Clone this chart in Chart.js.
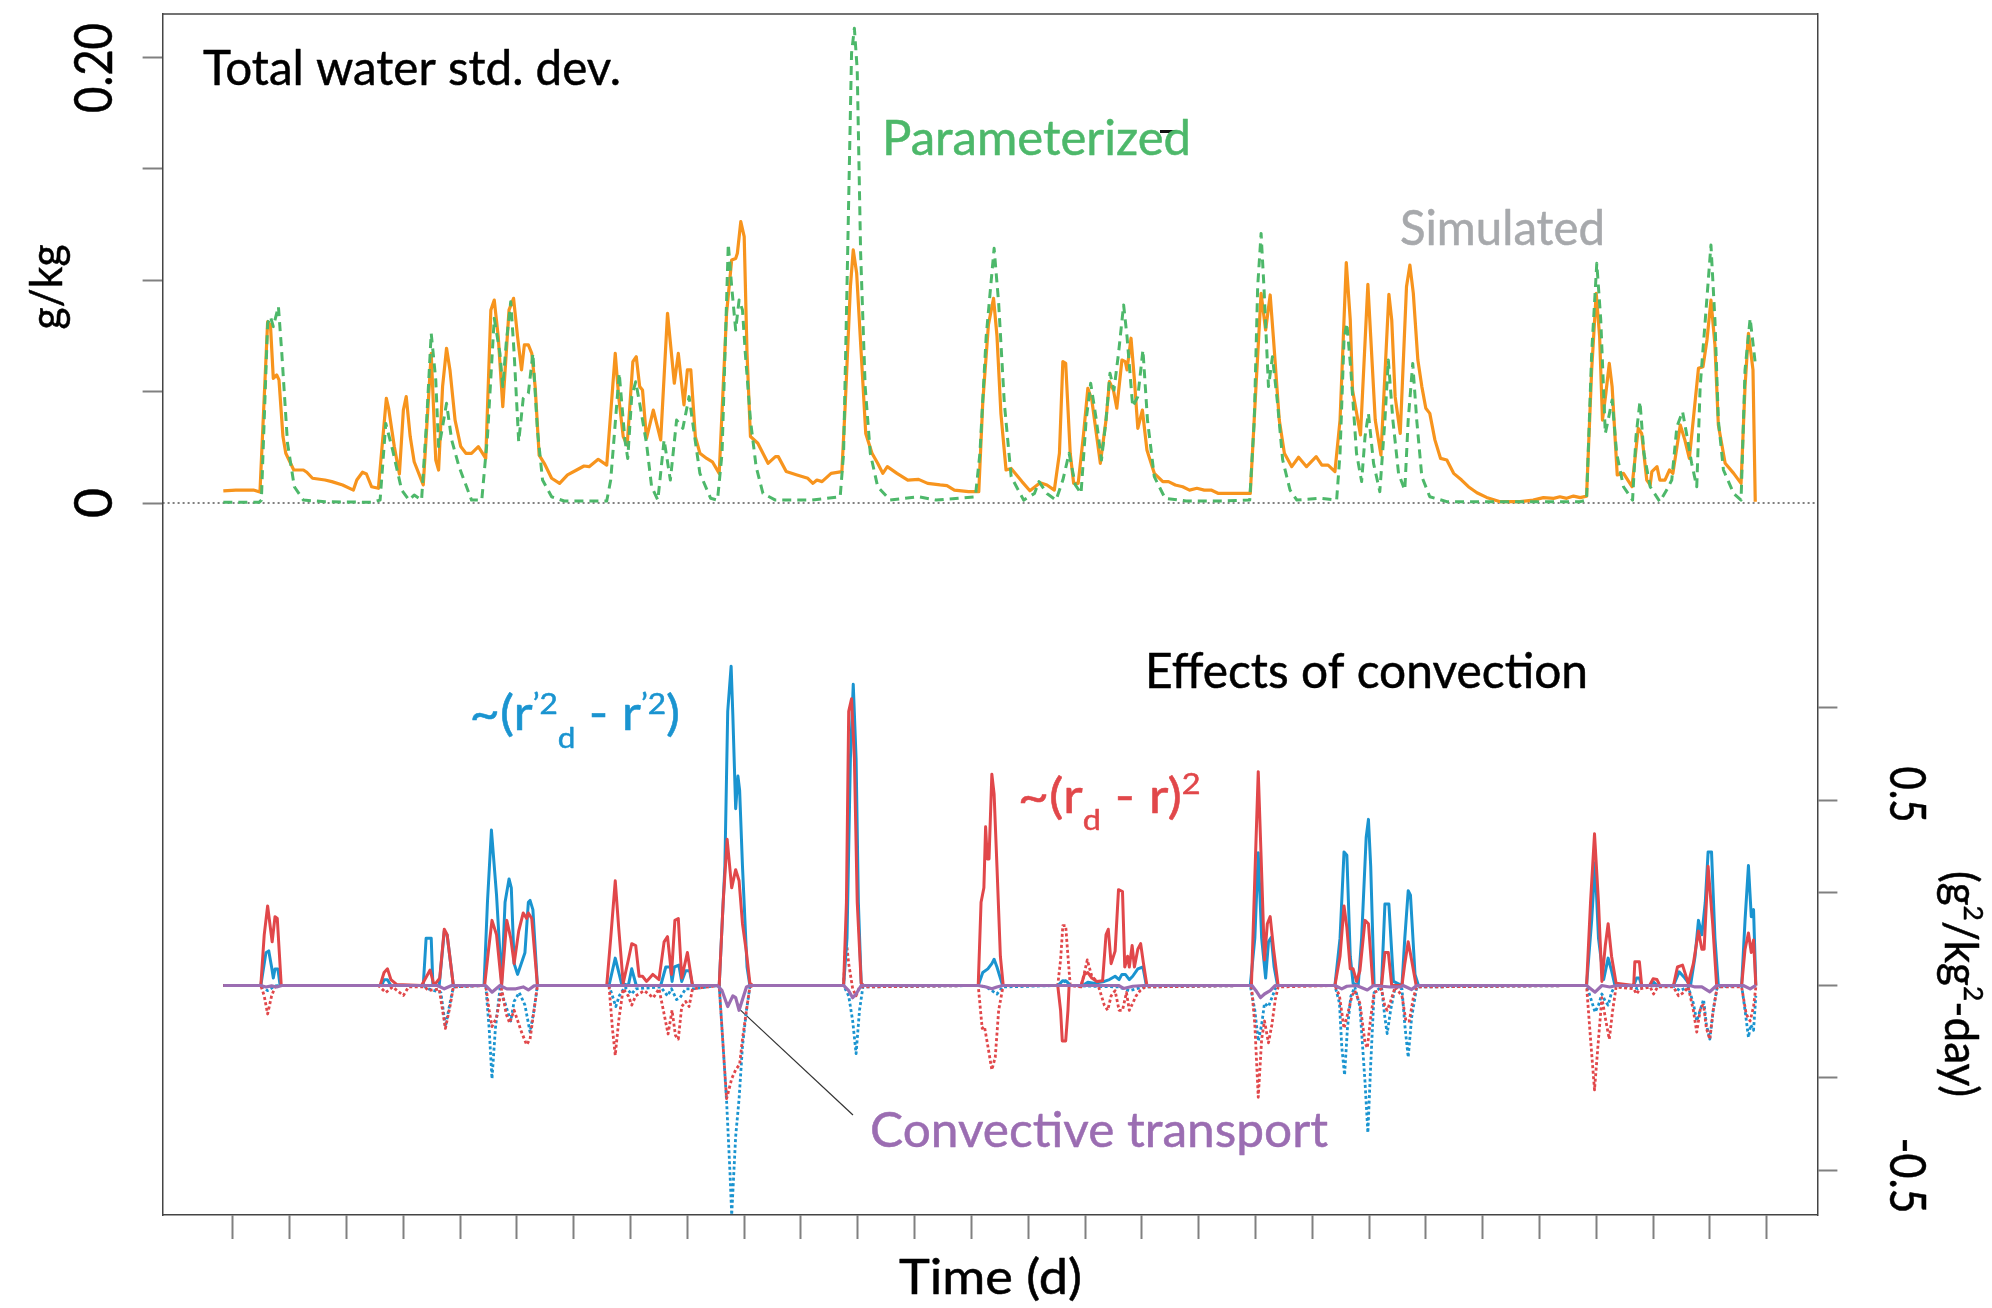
<!DOCTYPE html>
<html>
<head>
<meta charset="utf-8">
<title>Total water std. dev. / Effects of convection</title>
<script src="https://cdn.jsdelivr.net/npm/chart.js"></script>
<style>
  html, body { margin: 0; padding: 0; background: #fff; overflow: hidden; }
  canvas { display: block; }
</style>
</head>
<body>
<canvas id="c" width="1992" height="1308"></canvas>
<script>
// time axis (days), tick marks every day
var dayTicks = [1,2,3,4,5,6,7,8,9,10,11,12,13,14,15,16,17,18,19,20,21,22,23,24,25,26,27,28];
var xMin = -0.239, xMax = 28.894;

// upper panel, g/kg
var sdTicks = [0, 0.05, 0.10, 0.15, 0.20];
var sdMin = -0.3193, sdMax = 0.2193;
// lower panel, g2/kg2-day
var effTicks = [-0.5, -0.25, 0, 0.25, 0.5, 0.75];
var effMin = -0.6203, effMax = 2.6257;

// [day, value]
var simulated = [[0.83,.0054],[1.05,.0058],[1.36,.0058],[1.475,.0049],[1.61,.0813],[1.66,.0798],[1.71,.0559],[1.77,.0574],[1.81,.0552],[1.88,.0298],[1.93,.0223],[2.07,.0148],[2.24,.0148],[2.30,.0138],[2.40,.0111],[2.62,.0103],[2.74,.0096],[2.93,.0081],[3.12,.0058],[3.18,.0103],[3.28,.0138],[3.35,.0130],[3.44,.0073],[3.56,.0066],[3.70,.0469],[3.74,.0425],[3.84,.0253],[3.93,.0130],[4.00,.0417],[4.05,.0477],[4.12,.0298],[4.19,.0185],[4.35,.0081],[4.49,.0671],[4.57,.0193],[4.62,.0148],[4.69,.0522],[4.76,.0694],[4.82,.0597],[4.91,.0372],[5.01,.0253],[5.10,.0223],[5.20,.0223],[5.32,.0253],[5.45,.0200],[5.54,.0866],[5.60,.0910],[5.67,.0746],[5.75,.0432],[5.86,.0866],[5.94,.0918],[6.01,.0746],[6.08,.0597],[6.13,.0709],[6.20,.0709],[6.26,.0671],[6.32,.0522],[6.39,.0215],[6.48,.0178],[6.61,.0111],[6.75,.0088],[6.89,.0126],[7.05,.0148],[7.18,.0166],[7.27,.0163],[7.43,.0196],[7.58,.0170],[7.73,.0671],[7.79,.0477],[7.87,.0298],[7.94,.0260],[8.04,.0634],[8.10,.0656],[8.16,.0522],[8.21,.0507],[8.28,.0290],[8.40,.0417],[8.53,.0283],[8.65,.0851],[8.77,.0537],[8.84,.0671],[8.94,.0440],[9.00,.0597],[9.06,.0597],[9.14,.0298],[9.22,.0223],[9.34,.0200],[9.44,.0185],[9.56,.0133],[9.69,.0851],[9.78,.1090],[9.85,.1097],[9.88,.1120],[9.94,.1262],[10.00,.1195],[10.05,.0671],[10.11,.0298],[10.24,.0268],[10.42,.0178],[10.55,.0208],[10.60,.0208],[10.74,.0141],[10.93,.0126],[11.12,.0111],[11.21,.0088],[11.28,.0103],[11.37,.0096],[11.53,.0133],[11.72,.0141],[11.78,.0447],[11.87,.0970],[11.92,.1135],[11.98,.1030],[12.06,.0671],[12.14,.0312],[12.25,.0223],[12.35,.0178],[12.44,.0133],[12.52,.0163],[12.69,.0133],[12.88,.0103],[13.07,.0106],[13.23,.0088],[13.45,.0081],[13.57,.0078],[13.70,.0058],[13.95,.0051],[14.13,.0051],[14.20,.0450],[14.30,.0800],[14.39,.0918],[14.45,.0750],[14.52,.0400],[14.61,.0148],[14.70,.0155],[14.89,.0096],[15.03,.0055],[15.21,.0091],[15.33,.0081],[15.46,.0058],[15.55,.0223],[15.61,.0634],[15.66,.0626],[15.74,.0223],[15.80,.0088],[15.88,.0088],[15.97,.0298],[16.05,.0514],[16.12,.0462],[16.27,.0178],[16.37,.0372],[16.43,.0544],[16.50,.0507],[16.56,.0425],[16.65,.0641],[16.71,.0634],[16.74,.0597],[16.81,.0739],[16.87,.0552],[16.93,.0335],[17.01,.0417],[17.09,.0238],[17.22,.0133],[17.37,.0096],[17.47,.0096],[17.59,.0081],[17.72,.0073],[17.84,.0058],[17.97,.0066],[18.10,.0058],[18.22,.0058],[18.35,.0043],[18.60,.0043],[18.91,.0043],[19.01,.0522],[19.10,.0940],[19.18,.0776],[19.26,.0933],[19.32,.0731],[19.42,.0372],[19.51,.0223],[19.64,.0163],[19.76,.0205],[19.90,.0163],[20.07,.0208],[20.17,.0170],[20.28,.0170],[20.40,.0141],[20.49,.0372],[20.60,.1078],[20.67,.0821],[20.71,.0507],[20.85,.0305],[20.98,.0981],[21.03,.0746],[21.11,.0372],[21.21,.0215],[21.35,.0936],[21.40,.0821],[21.46,.0477],[21.55,.0312],[21.66,.0970],[21.72,.1067],[21.78,.0940],[21.86,.0641],[21.93,.0522],[22.00,.0425],[22.07,.0402],[22.16,.0283],[22.26,.0200],[22.37,.0193],[22.49,.0133],[22.63,.0103],[22.75,.0073],[22.90,.0046],[23.07,.0025],[23.31,.0006],[23.66,.0006],[23.89,.0013],[24.07,.0024],[24.25,.0021],[24.36,.0028],[24.48,.0021],[24.60,.0031],[24.72,.0024],[24.83,.0031],[24.92,.0597],[25.00,.0940],[25.06,.0746],[25.11,.0372],[25.17,.0492],[25.23,.0626],[25.28,.0522],[25.37,.0126],[25.48,.0133],[25.63,.0073],[25.74,.0335],[25.80,.0312],[25.89,.0103],[25.95,.0081],[25.98,.0141],[26.07,.0163],[26.12,.0103],[26.21,.0103],[26.29,.0148],[26.35,.0133],[26.48,.0350],[26.56,.0283],[26.64,.0200],[26.80,.0604],[26.88,.0611],[26.95,.0731],[27.02,.0910],[27.09,.0709],[27.15,.0350],[27.27,.0178],[27.42,.0133],[27.55,.0088],[27.62,.0522],[27.68,.0761],[27.76,.0597],[27.80,.0006]];

var parameterized = [[0.83,.0003],[1.46,.0003],[1.50,.0013],[1.61,.0806],[1.66,.0836],[1.71,.0791],[1.80,.0881],[1.86,.0671],[1.96,.0268],[2.08,.0073],[2.24,.0013],[2.62,.0006],[3.44,.0003],[3.59,.0013],[3.69,.0357],[3.81,.0238],[3.97,.0058],[4.10,.0013],[4.19,.0036],[4.32,.0013],[4.41,.0372],[4.49,.0761],[4.57,.0552],[4.62,.0253],[4.66,.0298],[4.76,.0447],[4.85,.0283],[4.98,.0163],[5.20,.0013],[5.38,.0013],[5.48,.0298],[5.60,.0828],[5.70,.0671],[5.75,.0522],[5.81,.0716],[5.89,.0903],[5.95,.0671],[6.03,.0275],[6.11,.0469],[6.20,.0492],[6.28,.0671],[6.36,.0327],[6.45,.0103],[6.61,.0028],[6.83,.0009],[7.58,.0009],[7.65,.0103],[7.80,.0582],[7.90,.0283],[7.95,.0200],[8.02,.0477],[8.09,.0544],[8.16,.0447],[8.28,.0268],[8.37,.0073],[8.48,.0013],[8.59,.0283],[8.70,.0103],[8.81,.0372],[8.92,.0335],[9.03,.0477],[9.12,.0312],[9.22,.0133],[9.41,.0021],[9.53,.0013],[9.61,.0223],[9.72,.1162],[9.78,.0970],[9.85,.0776],[9.91,.0910],[9.97,.0866],[10.02,.0671],[10.11,.0372],[10.21,.0163],[10.33,.0043],[10.55,.0013],[11.18,.0013],[11.69,.0028],[11.75,.0223],[11.81,.0970],[11.89,.2017],[11.94,.2129],[11.99,.1942],[12.05,.1120],[12.13,.0522],[12.22,.0223],[12.35,.0073],[12.57,.0013],[13.07,.0028],[13.38,.0013],[14.07,.0028],[14.15,.0223],[14.26,.0746],[14.40,.1142],[14.48,.0896],[14.58,.0447],[14.70,.0118],[14.92,.0013],[15.11,.0043],[15.19,.0096],[15.33,.0043],[15.49,.0013],[15.61,.0103],[15.72,.0223],[15.83,.0081],[15.93,.0043],[16.02,.0372],[16.10,.0537],[16.20,.0372],[16.29,.0193],[16.37,.0372],[16.44,.0582],[16.51,.0507],[16.59,.0671],[16.68,.0888],[16.74,.0746],[16.84,.0432],[16.93,.0477],[17.02,.0686],[17.10,.0372],[17.22,.0118],[17.41,.0021],[17.78,.0009],[18.41,.0009],[18.90,.0013],[18.98,.0372],[19.04,.0970],[19.10,.1209],[19.15,.0970],[19.23,.0522],[19.30,.0656],[19.39,.0447],[19.48,.0193],[19.61,.0058],[19.73,.0013],[20.14,.0021],[20.43,.0013],[20.49,.0223],[20.56,.0731],[20.61,.0806],[20.68,.0597],[20.78,.0223],[20.87,.0096],[20.93,.0298],[20.99,.0402],[21.08,.0178],[21.19,.0051],[21.28,.0372],[21.34,.0641],[21.42,.0372],[21.52,.0133],[21.63,.0058],[21.69,.0372],[21.77,.0626],[21.84,.0372],[21.93,.0118],[22.07,.0028],[22.37,.0006],[24.72,.0006],[24.83,.0013],[24.92,.0671],[25.01,.1075],[25.08,.0821],[25.16,.0312],[25.21,.0372],[25.28,.0462],[25.36,.0223],[25.48,.0073],[25.64,.0013],[25.70,.0298],[25.77,.0455],[25.84,.0223],[25.95,.0073],[26.12,.0006],[26.24,.0058],[26.33,.0103],[26.42,.0342],[26.52,.0410],[26.61,.0283],[26.68,.0178],[26.77,.0073],[26.83,.0522],[26.92,.0821],[27.02,.1157],[27.09,.0821],[27.15,.0372],[27.24,.0148],[27.42,.0043],[27.55,.0013],[27.62,.0597],[27.71,.0828],[27.80,.0626]];

// ~(r'2_d - r'2), solid = production, dotted = loss
var varSource = [[0.83,0],[1.49,0],[1.58,.0886],[1.63,.0935],[1.68,.0497],[1.71,.0205],[1.74,.0448],[1.79,.0448],[1.83,0],[3.62,0],[3.66,.0156],[3.72,.0156],[3.78,0],[4.35,0],[4.40,.1276],[4.49,.1276],[4.52,0],[4.63,0],[4.72,.147],[4.77,.137],[4.88,0],[5.42,0],[5.48,.225],[5.55,.42],[5.64,.244],[5.73,.006],[5.79,.225],[5.86,.288],[5.90,.264],[5.95,.059],[6.01,.030],[6.14,.0886],[6.20,.225],[6.23,.230],[6.28,.205],[6.36,0],[7.62,0],[7.73,.074],[7.84,.006],[7.96,0],[8.02,.045],[8.10,0],[8.53,0],[8.62,.050],[8.70,.050],[8.73,.011],[8.77,.050],[8.85,.055],[8.90,.011],[8.97,.040],[9.04,.040],[9.09,0],[9.56,0],[9.66,.322],[9.71,.741],[9.77,.863],[9.80,.731],[9.85,.478],[9.89,.566],[9.92,.527],[9.97,.322],[10.05,.050],[10.10,0],[11.75,0],[11.81,.128],[11.87,.614],[11.92,.814],[11.97,.614],[12.01,.225],[12.06,.006],[12.09,0],[14.12,0],[14.20,.035],[14.29,.045],[14.36,.059],[14.40,.071],[14.45,.050],[14.55,0],[15.52,0],[15.61,.013],[15.68,.011],[15.74,0],[15.96,0],[16.05,.009],[16.15,.006],[16.34,.011],[16.43,.016],[16.53,.025],[16.60,.016],[16.65,.030],[16.71,.030],[16.78,.016],[16.84,.025],[16.93,.045],[17.02,.050],[17.08,0],[18.91,0],[18.99,.128],[19.05,.359],[19.11,.128],[19.18,.020],[19.23,.118],[19.28,.130],[19.33,.050],[19.39,0],[20.40,0],[20.49,.128],[20.56,.361],[20.61,.352],[20.67,.079],[20.72,.006],[20.81,0],[20.87,.128],[20.95,.400],[20.99,.449],[21.03,.322],[21.09,0],[21.22,0],[21.28,.220],[21.35,.220],[21.43,.011],[21.58,0],[21.63,.128],[21.69,.256],[21.73,.244],[21.81,.030],[21.87,0],[24.83,0],[24.92,.176],[24.98,.332],[25.04,.128],[25.13,.016],[25.21,.074],[25.27,.040],[25.33,0],[25.66,0],[25.71,.020],[25.76,.020],[25.80,0],[25.95,0],[26.01,.009],[26.07,0],[26.36,0],[26.46,.037],[26.56,.020],[26.66,0],[26.74,.079],[26.80,.176],[26.86,.137],[26.92,.225],[26.97,.361],[27.03,.361],[27.09,.128],[27.15,0],[27.56,0],[27.62,.176],[27.68,.324],[27.73,.186],[27.77,.205],[27.81,0]];

var varSink = [[0.83,0],[1.49,0],[1.61,-.014],[1.74,-.001],[1.85,0],[4.35,0],[4.44,-.009],[4.66,-.019],[4.74,-.111],[4.82,-.048],[4.88,-.004],[5.45,0],[5.51,-.116],[5.56,-.252],[5.62,-.116],[5.70,-.009],[5.79,-.048],[5.89,-.096],[5.95,-.043],[6.04,-.019],[6.14,-.053],[6.23,-.126],[6.30,-.067],[6.36,0],[7.62,0],[7.68,-.028],[7.74,-.057],[7.80,-.028],[7.90,-.004],[8.02,-.023],[8.09,-.009],[8.53,-.004],[8.65,-.028],[8.72,-.009],[8.81,-.038],[8.87,-.033],[8.97,-.009],[9.09,-.009],[9.56,0],[9.63,-.166],[9.69,-.312],[9.75,-.506],[9.78,-.62],[9.85,-.408],[9.91,-.306],[9.97,-.164],[10.04,-.067],[10.10,-.004],[10.15,0],[11.75,0],[11.84,-.028],[11.91,-.096],[11.97,-.184],[12.03,-.067],[12.09,-.004],[14.14,0],[14.26,-.004],[14.36,-.014],[14.45,-.023],[14.55,-.004],[15.52,0],[15.58,.006],[15.66,.013],[15.72,0],[16.59,-.004],[16.78,-.014],[16.90,-.009],[17.03,-.004],[18.91,0],[18.99,-.067],[19.05,-.150],[19.11,-.106],[19.16,-.048],[19.23,-.057],[19.29,-.033],[19.35,-.009],[19.39,0],[20.40,0],[20.48,-.048],[20.52,-.165],[20.57,-.242],[20.62,-.116],[20.68,-.029],[20.75,-.004],[20.84,-.057],[20.93,-.262],[20.98,-.398],[21.03,-.213],[21.09,-.019],[21.22,-.004],[21.28,-.087],[21.32,-.130],[21.38,-.067],[21.46,-.004],[21.58,-.009],[21.63,-.106],[21.69,-.194],[21.75,-.087],[21.84,-.004],[24.83,0],[24.90,-.033],[24.98,-.072],[25.04,-.053],[25.10,-.023],[25.16,-.043],[25.21,-.053],[25.27,-.019],[25.33,-.001],[25.66,-.004],[25.73,-.009],[25.80,-.001],[26.36,-.001],[26.47,-.014],[26.62,-.004],[26.71,-.048],[26.77,-.096],[26.83,-.067],[26.89,-.038],[26.94,-.106],[27.00,-.145],[27.06,-.067],[27.13,-.004],[27.56,0],[27.62,-.067],[27.68,-.140],[27.72,-.106],[27.77,-.121],[27.81,-.028]];

// ~(r_d - r)2
var meanSource = [[0.83,0],[1.49,0],[1.55,.137],[1.61,.215],[1.69,.118],[1.74,.186],[1.78,.181],[1.85,0],[3.59,0],[3.66,.035],[3.72,.045],[3.78,.016],[3.88,.003],[4.32,0],[4.41,.025],[4.47,.042],[4.54,0],[4.64,.020],[4.72,.152],[4.77,.137],[4.88,0],[5.43,0],[5.50,.098],[5.56,.176],[5.64,.137],[5.73,0],[5.82,.176],[5.89,.128],[5.95,.059],[6.03,.147],[6.11,.196],[6.17,.181],[6.20,.196],[6.26,.181],[6.36,0],[7.58,0],[7.65,.128],[7.73,.283],[7.79,.157],[7.87,.006],[7.96,.069],[8.02,.113],[8.09,.108],[8.15,.025],[8.21,.025],[8.28,.011],[8.39,.030],[8.50,.016],[8.59,.118],[8.65,.132],[8.72,.030],[8.78,.176],[8.84,.181],[8.90,.020],[9.00,.089],[9.09,0],[9.56,0],[9.63,.225],[9.70,.395],[9.78,.264],[9.85,.313],[9.91,.283],[9.97,.167],[10.04,.089],[10.10,.006],[10.15,0],[11.75,0],[11.80,.225],[11.84,.741],[11.89,.775],[11.94,.614],[11.99,.225],[12.06,.006],[12.10,0],[14.12,0],[14.17,.225],[14.22,.264],[14.25,.429],[14.28,.342],[14.31,.342],[14.36,.571],[14.40,.517],[14.45,.322],[14.51,.079],[14.56,0],[15.52,0],[15.57,-.067],[15.60,-.150],[15.66,-.150],[15.70,-.067],[15.72,0],[15.93,0],[15.99,.030],[16.05,.035],[16.12,.020],[16.21,.011],[16.31,.013],[16.37,.137],[16.41,.152],[16.46,.059],[16.53,.093],[16.59,.259],[16.66,.254],[16.70,.050],[16.75,.079],[16.78,.050],[16.83,.108],[16.87,.050],[16.93,.098],[16.98,.113],[17.03,.059],[17.09,0],[18.93,0],[18.99,.293],[19.05,.578],[19.11,.303],[19.16,.069],[19.21,.167],[19.26,.186],[19.32,.098],[19.40,0],[20.40,0],[20.49,.079],[20.56,.215],[20.61,.157],[20.67,.045],[20.72,.045],[20.78,.011],[20.84,.040],[20.93,.176],[20.99,.167],[21.07,0],[21.22,0],[21.28,.089],[21.34,.089],[21.40,0],[21.58,0],[21.63,.059],[21.69,.118],[21.75,.069],[21.83,0],[24.83,0],[24.90,.225],[24.97,.410],[25.04,.225],[25.10,.011],[25.16,.108],[25.21,.167],[25.27,.079],[25.35,.006],[25.66,0],[25.68,.064],[25.76,.064],[25.80,0],[25.94,0],[26.00,.018],[26.07,.016],[26.12,0],[26.36,0],[26.43,.050],[26.52,.055],[26.62,.006],[26.71,.059],[26.80,.147],[26.86,.098],[26.90,.098],[26.97,.322],[27.05,.167],[27.12,0],[27.56,0],[27.62,.098],[27.68,.142],[27.73,.089],[27.77,.123],[27.81,0]];

var meanSink = [[0.83,0],[1.49,0],[1.55,-.028],[1.61,-.077],[1.68,-.028],[1.74,-.004],[1.80,0],[3.56,0],[3.69,-.019],[3.81,-.004],[4.00,-.027],[4.09,-.004],[4.38,-.004],[4.44,-.014],[4.63,-.009],[4.74,-.116],[4.82,-.057],[4.88,-.004],[5.45,0],[5.51,-.067],[5.56,-.111],[5.64,-.087],[5.73,-.009],[5.81,-.077],[5.87,-.101],[5.95,-.067],[6.08,-.126],[6.17,-.160],[6.23,-.145],[6.30,-.067],[6.36,0],[7.62,0],[7.68,-.116],[7.73,-.189],[7.79,-.096],[7.87,-.009],[7.96,-.028],[8.02,-.053],[8.09,-.028],[8.24,-.014],[8.40,-.033],[8.50,-.009],[8.59,-.077],[8.66,-.131],[8.73,-.067],[8.79,-.135],[8.84,-.145],[8.90,-.057],[8.97,-.043],[9.03,-.057],[9.09,-.009],[9.56,0],[9.63,-.166],[9.69,-.306],[9.78,-.252],[9.85,-.228],[9.92,-.213],[9.97,-.145],[10.04,-.067],[10.10,-.004],[10.15,0],[11.75,0],[11.79,.132],[11.84,.059],[11.91,-.009],[11.97,-.028],[12.03,-.004],[14.12,0],[14.19,-.116],[14.23,-.111],[14.29,-.164],[14.36,-.228],[14.42,-.194],[14.48,-.067],[14.56,0],[15.52,0],[15.57,.069],[15.61,.162],[15.66,.162],[15.71,.059],[15.74,0],[15.93,-.004],[15.99,.035],[16.04,.069],[16.12,.025],[16.21,.011],[16.34,-.053],[16.40,-.067],[16.46,-.028],[16.53,-.014],[16.60,-.067],[16.66,-.067],[16.73,-.019],[16.78,-.067],[16.84,-.048],[16.90,-.028],[16.97,-.014],[17.06,-.004],[18.93,0],[18.99,-.106],[19.05,-.302],[19.11,-.145],[19.16,-.096],[19.23,-.155],[19.29,-.106],[19.35,-.038],[19.40,-.004],[20.40,0],[20.48,-.028],[20.56,-.116],[20.64,-.067],[20.70,-.028],[20.75,-.014],[20.84,-.048],[20.93,-.155],[20.97,-.169],[21.03,-.087],[21.09,-.019],[21.22,-.009],[21.28,-.057],[21.32,-.067],[21.38,-.043],[21.46,-.004],[21.58,-.028],[21.65,-.096],[21.71,-.096],[21.78,-.033],[21.84,-.004],[24.83,0],[24.90,-.145],[24.97,-.282],[25.04,-.145],[25.10,-.033],[25.17,-.096],[25.23,-.145],[25.29,-.067],[25.35,-.004],[25.66,-.009],[25.71,-.023],[25.77,-.009],[25.95,-.004],[26.01,-.023],[26.08,-.004],[26.36,-.004],[26.45,-.028],[26.54,-.019],[26.62,-.004],[26.71,-.067],[26.77,-.126],[26.84,-.057],[26.89,-.053],[26.94,-.116],[27.00,-.145],[27.06,-.067],[27.13,-.004],[27.56,-.004],[27.64,-.077],[27.71,-.096],[27.77,-.057],[27.81,-.004]];

var transport = [[0.83,0],[1.49,0],[1.58,-.004],[1.68,-.001],[1.77,-.004],[1.86,0],[4.60,0],[4.72,-.009],[4.85,0],[5.45,0],[5.56,-.018],[5.70,0],[5.82,-.009],[5.98,-.009],[6.11,-.004],[6.20,-.012],[6.30,-.001],[6.36,0],[9.53,0],[9.61,-.014],[9.71,-.057],[9.80,-.028],[9.85,-.033],[9.91,-.067],[9.97,-.038],[10.04,-.004],[10.10,0],[11.75,0],[11.84,-.014],[11.91,-.033],[11.97,-.023],[12.06,0],[14.12,0],[14.26,-.004],[14.36,-.009],[14.45,-.004],[14.55,0],[16.59,0],[16.68,-.008],[16.84,-.002],[17.03,0],[18.94,0],[19.01,-.014],[19.09,-.033],[19.16,-.023],[19.26,-.014],[19.35,0],[20.40,0],[20.52,-.009],[20.61,-.002],[20.78,0],[20.97,-.012],[21.08,0],[21.37,-.004],[21.55,-.004],[21.60,0],[21.75,-.011],[21.84,0],[24.83,0],[24.98,-.018],[25.10,0],[25.24,-.004],[25.36,0],[26.65,0],[26.74,-.004],[26.86,-.004],[27.00,-.017],[27.12,0],[27.59,0],[27.71,-.009],[27.81,0]];

var zeroLine = [[xMin, 0], [xMax, 0]];
var leader = [[9.93, -0.066], [11.915, -0.350]];

var ORANGE = '#F7941D', GREEN = '#4DB86A', BLUE = '#1A94D0', RED = '#E1474A', PURPLE = '#9B6DB2', GREY = '#A7A9AC';
var FONT = 'Lato, "Open Sans", sans-serif';

function pts(arr) {
  return arr.map(function (p) { return {x: p[0], y: p[1]}; });
}

// draws a run of text pieces (sub/superscripts), squeezed to the target width
function drawRich(ctx, segs, o) {
  ctx.save();
  ctx.fillStyle = o.color;
  ctx.strokeStyle = o.color;
  ctx.lineWidth = o.heavy === undefined ? 0.5 : o.heavy;
  ctx.lineJoin = 'round';
  ctx.textAlign = 'left';
  ctx.textBaseline = 'alphabetic';
  var total = 0;
  var parts = segs.map(function (sg) {
    var sz = o.size * (sg.s || 1);
    var f = sz + 'px ' + FONT;
    ctx.font = f;
    var w = ctx.measureText(sg.t).width;
    total += w;
    return {t: sg.t, font: f, w: w, dy: (sg.dy || 0) * o.size};
  });
  var k = o.width ? o.width / total : 1;
  ctx.translate(o.x, o.y);
  if (o.rot) ctx.rotate(o.rot);
  ctx.scale(k, 1);
  var cx = o.align === 'center' ? -total / 2 : 0;
  parts.forEach(function (p) {
    ctx.font = p.font;
    ctx.fillText(p.t, cx, p.dy);
    if (ctx.lineWidth > 0) ctx.strokeText(p.t, cx, p.dy);
    cx += p.w;
  });
  ctx.restore();
}

var annotations = {
  id: 'annotations',
  afterDraw: function (chart) {
    var ctx = chart.ctx, a = chart.chartArea;
    var ySd = chart.scales.ySd, yEff = chart.scales.yEff;

    // top edge of the box
    ctx.save();
    ctx.strokeStyle = '#444';
    ctx.lineWidth = 1.5;
    ctx.beginPath();
    ctx.moveTo(a.left, a.top);
    ctx.lineTo(a.right, a.top);
    ctx.stroke();
    ctx.fillStyle = '#111';
    ctx.fillRect(1160, 130, 16, 3);
    ctx.restore();

    drawRich(ctx, [{t: 'Total water std. dev.'}], {x: 203, y: 85, size: 48, width: 418, color: '#000'});
    drawRich(ctx, [{t: 'Parameterized'}], {x: 882, y: 155, size: 49, width: 309, color: GREEN});
    drawRich(ctx, [{t: 'Simulated'}], {x: 1400, y: 245, size: 49, width: 205, color: GREY});
    drawRich(ctx, [{t: 'Effects of convection'}], {x: 1145, y: 688, size: 48, width: 443, color: '#000'});
    drawRich(ctx, [{t: '~(r'}, {t: '\u20192', s: 0.6, dy: -0.34}, {t: 'd', s: 0.6, dy: 0.37},
                   {t: ' - r'}, {t: '\u20192', s: 0.6, dy: -0.34}, {t: ')'}],
             {x: 469.5, y: 730, size: 48, width: 210.5, color: BLUE});
    drawRich(ctx, [{t: '~(r'}, {t: 'd', s: 0.6, dy: 0.36}, {t: ' - r)'}, {t: '2', s: 0.6, dy: -0.4}],
             {x: 1017.7, y: 813, size: 48, width: 183, color: RED});
    drawRich(ctx, [{t: 'Convective transport'}], {x: 870, y: 1147, size: 48, width: 458, color: PURPLE});
    drawRich(ctx, [{t: 'Time (d)'}], {x: 899, y: 1294, size: 48, width: 183, color: '#000'});

    // axis titles and tick labels, written along the axes
    drawRich(ctx, [{t: 'g/kg'}], {x: 62, y: 287, size: 44, width: 85, color: '#000', rot: -Math.PI / 2, align: 'center'});
    drawRich(ctx, [{t: '0.20'}], {x: 112, y: ySd.getPixelForValue(0.20) + 11, size: 52, width: 90, color: '#000', rot: -Math.PI / 2, align: 'center'});
    drawRich(ctx, [{t: '0'}], {x: 112, y: ySd.getPixelForValue(0), size: 52, color: '#000', rot: -Math.PI / 2, align: 'center'});
    drawRich(ctx, [{t: '0.5'}], {x: 1890, y: yEff.getPixelForValue(0.5) - 6, size: 50, width: 56, color: '#000', rot: Math.PI / 2, align: 'center'});
    drawRich(ctx, [{t: '-0.5'}], {x: 1890, y: yEff.getPixelForValue(-0.5) + 5, size: 50, width: 76, color: '#000', rot: Math.PI / 2, align: 'center'});
    drawRich(ctx, [{t: '(g'}, {t: '2', s: 0.6, dy: -0.42}, {t: '/kg'}, {t: '2', s: 0.6, dy: -0.42}, {t: '-day)'}],
             {x: 1945, y: 984, size: 46, width: 226, color: '#000', rot: Math.PI / 2, align: 'center'});
  }
};

function tickSetter(values) {
  return function (scale) {
    scale.ticks = values.map(function (v) { return {value: v}; });
  };
}

var gridOpts = function (len) {
  return {display: true, drawOnChartArea: false, drawTicks: true, tickLength: len, tickColor: '#808080', tickWidth: 2};
};
var borderOpts = {display: true, color: '#444', width: 1.5};

new Chart(document.getElementById('c'), {
  type: 'line',
  data: {
    datasets: [
      {data: pts(transport), yAxisID: 'yEff', borderColor: PURPLE, borderWidth: 3.2},
      {data: pts(meanSource), yAxisID: 'yEff', borderColor: RED, borderWidth: 3},
      {data: pts(varSource), yAxisID: 'yEff', borderColor: BLUE, borderWidth: 3},
      {data: pts(meanSink), yAxisID: 'yEff', borderColor: RED, borderWidth: 2.8, borderDash: [3, 2.5]},
      {data: pts(varSink), yAxisID: 'yEff', borderColor: BLUE, borderWidth: 2.8, borderDash: [3, 2.5]},
      {data: pts(leader), yAxisID: 'yEff', borderColor: '#333', borderWidth: 1.2},
      {data: pts(parameterized), yAxisID: 'ySd', borderColor: GREEN, borderWidth: 3, borderDash: [9, 6]},
      {data: pts(simulated), yAxisID: 'ySd', borderColor: ORANGE, borderWidth: 3.2},
      {data: pts(zeroLine), yAxisID: 'ySd', borderColor: '#555', borderWidth: 1.3, borderDash: [2, 3]}
    ]
  },
  options: {
    responsive: false,
    animation: false,
    devicePixelRatio: 1,
    events: [],
    layout: {padding: {top: 14, left: 0, right: 0, bottom: 0}},
    elements: {
      point: {radius: 0, hoverRadius: 0},
      line: {tension: 0, fill: false, borderJoinStyle: 'round'}
    },
    plugins: {legend: {display: false}, tooltip: {enabled: false}},
    scales: {
      x: {
        type: 'linear', position: 'bottom', min: xMin, max: xMax,
        afterBuildTicks: tickSetter(dayTicks),
        afterFit: function (s) { s.height = 93; },
        ticks: {display: false},
        grid: gridOpts(24),
        border: borderOpts
      },
      ySd: {
        type: 'linear', position: 'left', min: sdMin, max: sdMax,
        afterBuildTicks: tickSetter(sdTicks),
        afterFit: function (s) { s.width = 162.6; },
        ticks: {display: false},
        grid: gridOpts(20),
        border: borderOpts
      },
      yEff: {
        type: 'linear', position: 'right', min: effMin, max: effMax,
        afterBuildTicks: tickSetter(effTicks),
        afterFit: function (s) { s.width = 174.6; },
        ticks: {display: false},
        grid: gridOpts(20),
        border: borderOpts
      }
    }
  },
  plugins: [annotations]
});
</script>
</body>
</html>
